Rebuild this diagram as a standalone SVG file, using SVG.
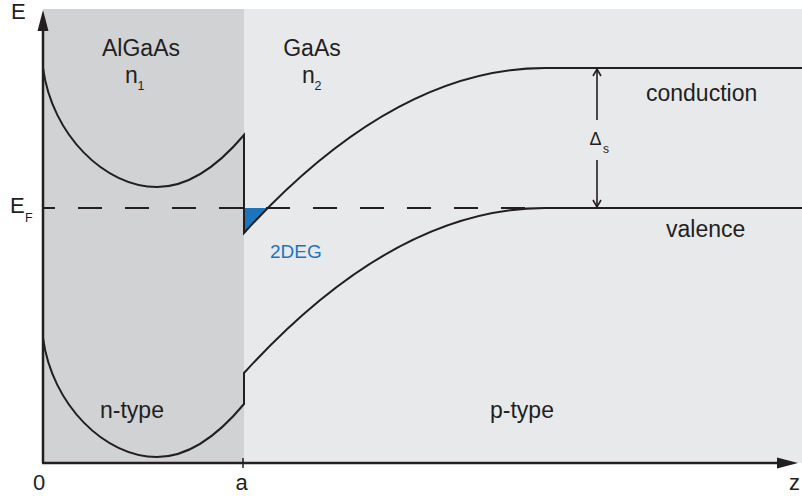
<svg xmlns="http://www.w3.org/2000/svg" width="802" height="496" viewBox="0 0 802 496">
<defs>
<style>
.t{font-family:"Liberation Sans",Arial,sans-serif;fill:#231f20;}
.b{fill:none;stroke:#231f20;stroke-width:2;}
.ax{fill:none;stroke:#231f20;stroke-width:2.5;}
.ar{fill:none;stroke:#231f20;stroke-width:1.6;}
</style>
</defs>
<rect width="802" height="496" fill="#ffffff"/>
<g id="regions">
<rect id="algaas" x="43" y="9" width="201" height="454" fill="#d1d2d4"/>
<rect id="gaas" x="244" y="9" width="558" height="454" fill="#e8e9eb"/>
</g>
<g id="twodeg">
<polygon points="244,208 267,208 244,233" fill="#1c75bc"/>
<text class="t" x="270" y="258" font-size="19" style="fill:#1c75bc">2DEG</text>
</g>
<g id="connectors">
<line x1="43" y1="208" x2="545" y2="208" stroke="#231f20" stroke-width="2" stroke-dasharray="24 23" stroke-dashoffset="12"/>
<path id="cond" class="b" d="M43,68 C52,135 105,187 157,187 Q200,187 244,135 L244,233 Q394.5,68 545,68 L802,68"/>
<path id="val" class="b" d="M43,338 C52,405 105,457 157,457 Q200,457 244,404 L244,373 Q394.5,208 545,208 L802,208"/>
<g id="delta">
<line class="ar" x1="597" y1="69" x2="597" y2="120"/>
<polyline class="ar" points="593,76 597,69 601,76"/>
<line class="ar" x1="597" y1="160" x2="597" y2="207"/>
<polyline class="ar" points="593,200 597,207 601,200"/>
</g>
<g id="axes">
<line class="ax" x1="43" y1="463" x2="43" y2="28"/>
<polygon points="43,10 37.5,31 48.5,31" fill="#231f20"/>
<line class="ax" x1="42" y1="463" x2="780" y2="463"/>
<polygon points="798,463 777,457.5 777,468.5" fill="#231f20"/>
<line x1="243" y1="458" x2="243" y2="468" stroke="#231f20" stroke-width="1.5"/>
</g>
</g>
<g id="labels">
<text class="t" x="11" y="19" font-size="22">E</text>
<text class="t" x="10" y="213" font-size="22">E</text>
<text class="t" x="25" y="222" font-size="12.5">F</text>
<text class="t" x="141" y="56" font-size="23" text-anchor="middle">AlGaAs</text>
<text class="t" x="125" y="83" font-size="23">n</text>
<text class="t" x="137.5" y="90" font-size="12.5">1</text>
<text class="t" x="312" y="56" font-size="23" text-anchor="middle">GaAs</text>
<text class="t" x="302" y="83" font-size="23">n</text>
<text class="t" x="314.5" y="90" font-size="12.5">2</text>
<text class="t" x="646" y="101" font-size="23">conduction</text>
<text class="t" x="666" y="237" font-size="23">valence</text>
<text class="t" x="589.5" y="145" font-size="18">Δ</text>
<text class="t" x="603" y="153" font-size="12">s</text>
<text class="t" x="100" y="418" font-size="23">n-type</text>
<text class="t" x="490" y="418" font-size="23">p-type</text>
<text class="t" x="39" y="490" font-size="22" text-anchor="middle">0</text>
<text class="t" x="241.5" y="490" font-size="22" text-anchor="middle">a</text>
<text class="t" x="789" y="490" font-size="22">z</text>
</g>
</svg>
